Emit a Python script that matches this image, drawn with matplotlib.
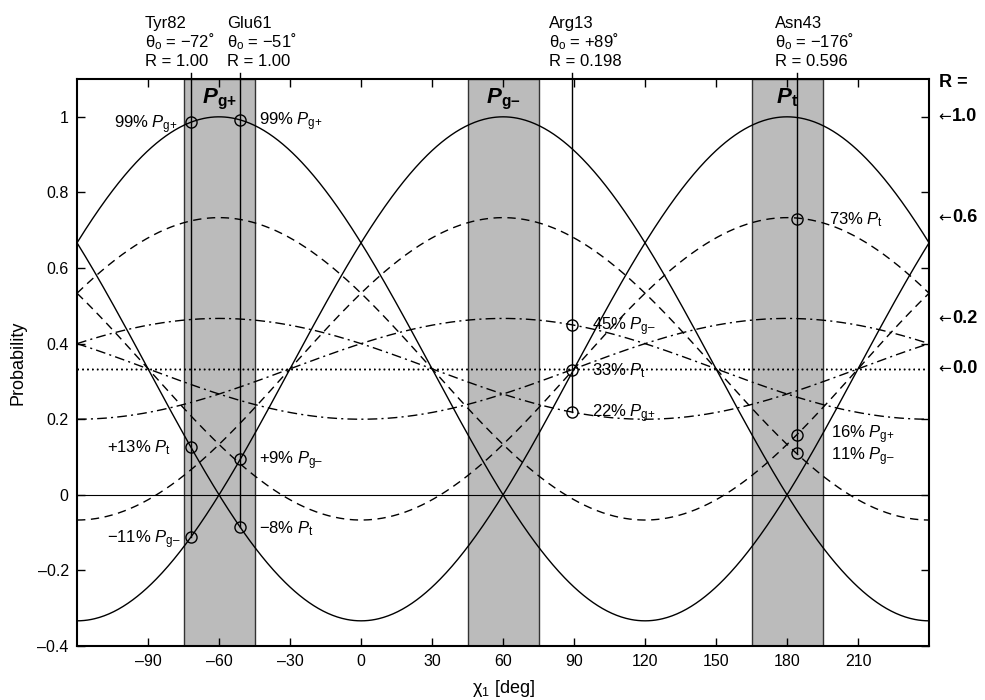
import numpy as np
import matplotlib.pyplot as plt
from matplotlib.transforms import blended_transform_factory

plt.rcParams['font.family'] = ['Liberation Sans', 'DejaVu Sans']
plt.rcParams['mathtext.fontset'] = 'custom'
plt.rcParams['mathtext.rm'] = 'Liberation Sans'
plt.rcParams['mathtext.it'] = 'Liberation Sans:italic'
plt.rcParams['mathtext.bf'] = 'Liberation Sans:bold'
plt.rcParams['mathtext.bfit'] = 'Liberation Sans:bold:italic'

# rotamer model: P(chi) = 1/3 + 2/3 * R * cos(chi - center)
rotamers = ['g{+}', 'g{–}', 't']
centers = [-60, 60, 180]
r_levels = [1.0, 0.6, 0.2, 0.0]
r_level_labels = ['1.0', '0.6', '0.2', '0.0']
band_half = 15

residues = ['Tyr82', 'Glu61', 'Arg13', 'Asn43']
theta_txt = ['−72', '−51', '+89', '−176']
theta0 = [-72, -51, 89, 184]        # -176 shown as 184
r_vals = [1.00, 1.00, 0.198, 0.596]
r_txt = ['1.00', '1.00', '0.198', '0.596']
text_x = [-91.3, -56.6, 79.4, 175.0]  # left edge of header text
# percentage labels, order g+, g-, t
pct = [['99%', '−11%', '+13%'],
       ['99%', '+9%', '−8%'],
       ['22%', '45%', '33%'],
       ['16%', '11%', '73%']]
offs = [[(-13, 0), (-10, 0), (-20, 0)],
        [(19, 0), (19, 0), (19, 0)],
        [(20, 0), (20, 0), (20, 0)],
        [(34, 2), (34, -2), (32, 0)]]

chi = np.linspace(-120, 240, 721)


def prob(x, c, r):
    return 1 / 3 + 2 / 3 * r * np.cos(np.radians(x - c))


fig = plt.figure(figsize=(9.85, 7), dpi=100)
ax = fig.add_axes([0.0782, 0.0771, 0.865, 0.81])

for c in centers:
    ax.axvspan(c - band_half, c + band_half, facecolor='#bbbbbb',
               edgecolor='#333333', lw=1, zorder=0)

styles = ['-', (0, (6, 4)), (0, (7, 3, 1.5, 3)), (0, (1, 2.5))]
for r, ls in zip(r_levels, styles):
    for c in centers:
        ax.plot(chi, prob(chi, c, r), color='black', lw=1, ls=ls)

ax.axhline(0, color='black', lw=0.8)

# band labels
for name, c in zip(rotamers, centers):
    ax.text(c, 1.035, r'$\mathbfit{P}_{\mathbf{%s}}$' % name, ha='center',
            va='baseline', fontsize=16)

trans_top = blended_transform_factory(ax.transData, fig.transFigure)
for i, res in enumerate(residues):
    t0, r = theta0[i], r_vals[i]
    ys = [prob(t0, c, r) for c in centers]
    ax.plot([t0, t0], [min(ys), 1.116], color='black', lw=1, clip_on=False)
    ax.plot([t0] * 3, ys, 'o', ms=8, mfc='none', mec='black', mew=1)
    ax.text(text_x[i], 0.96, res, transform=trans_top, fontsize=12)
    ax.text(text_x[i], 0.933, r'$\mathrm{\theta_o}$ = ' + theta_txt[i] + '˚',
            transform=trans_top, fontsize=12)
    ax.text(text_x[i], 0.906, 'R = ' + r_txt[i], transform=trans_top,
            fontsize=12)
    for j, name in enumerate(rotamers):
        ox, oy = offs[i][j]
        ax.annotate(pct[i][j] + r' $P_{\mathrm{%s}}$' % name, (t0, ys[j]),
                    xytext=(ox, oy - 5.5), textcoords='offset pixels',
                    ha='right' if ox < 0 else 'left', va='baseline',
                    fontsize=12)

# right-side R labels
side = blended_transform_factory(ax.transAxes, ax.transData)
ax.text(1.0117, 1.08, 'R =', transform=side,
        fontsize=13, fontweight='bold', va='baseline')
for r, lab in zip(r_levels, r_level_labels):
    y = prob(0, 0, r)
    ax.text(1.0105, y, '←', transform=side, fontsize=11, va='center',
            family='DejaVu Sans')
    ax.annotate(lab, (1.0117, y), xycoords=side, xytext=(13, 0),
                textcoords='offset pixels', fontsize=13, fontweight='bold',
                va='center', annotation_clip=False)

ax.set_xlim(-120, 240)
ax.set_ylim(-0.4, 1.1)
xt = np.arange(-90, 211, 30)
ax.set_xticks(xt)
ax.set_xticklabels([str(v).replace('-', '–') for v in xt])
yt = [-0.4, -0.2, 0, 0.2, 0.4, 0.6, 0.8, 1]
ax.set_yticks(yt)
ax.set_yticklabels(['–0.4', '–0.2', '0', '0.2', '0.4', '0.6', '0.8', '1'])
ax.tick_params(direction='in', top=True, right=True, length=6, width=1,
               labelsize=11.5, pad=6)
for s in ax.spines.values():
    s.set_linewidth(1.5)
ax.set_xlabel(r'$\mathrm{\chi}_1$ [deg]', fontsize=13, labelpad=6)
ax.set_ylabel('Probability', fontsize=13, labelpad=8)

fig.savefig('out.png', dpi=100)
